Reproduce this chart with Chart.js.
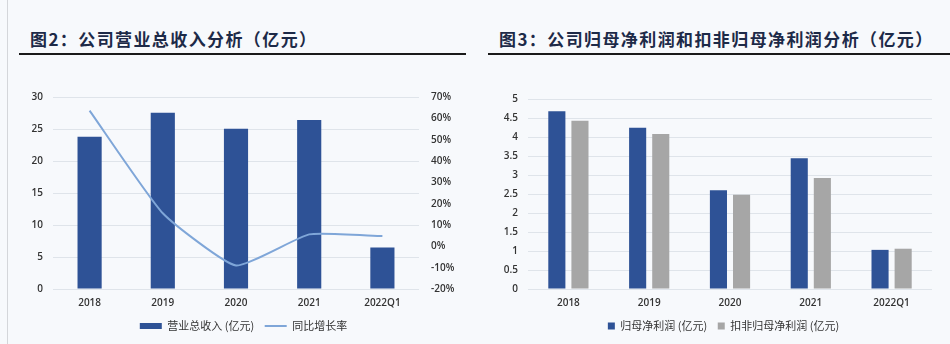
<!DOCTYPE html>
<html>
<head>
<meta charset="utf-8">
<script src="https://cdn.jsdelivr.net/npm/chart.js@4.4.1/dist/chart.umd.min.js"></script>
<style>
  html, body { margin: 0; padding: 0; width: 950px; height: 344px; overflow: hidden; background: #f7f9fc; }
  .border { position: absolute; left: 7px; top: 0; width: 1px; height: 344px; background: #d4d6da; }
  .title { position: absolute; top: 26px; font-family: "Noto Sans CJK SC", sans-serif; font-weight: 700; font-size: 17px; color: #1d2a48; letter-spacing: 1.4px; white-space: nowrap; }
  .rule { position: absolute; top: 53px; height: 2px; background: #1a1a1a; }
  .wrap { position: absolute; top: 60px; width: 475px; height: 284px; }
</style>
</head>
<body>
<div class="border"></div>
<div class="title" style="left:30px;">图2：公司营业总收入分析（亿元）</div>
<div class="rule" style="left:19px; width:447px;"></div>
<div class="title" style="left:499px;">图3：公司归母净利润和扣非归母净利润分析（亿元）</div>
<div class="rule" style="left:488px; width:462px;"></div>
<div class="wrap" style="left:0;"><canvas id="c1"></canvas></div>
<div class="wrap" style="left:475px;"><canvas id="c2"></canvas></div>
<script>
const categories = ["2018", "2019", "2020", "2021", "2022Q1"];
const revenue = [23.8, 27.55, 25.05, 26.4, 6.5];
const revenueGrowth = [63.6, 15.5, -9.0, 5.6, 4.8];
const netProfit = [4.68, 4.245, 2.6, 3.44, 1.03];
const deductedNetProfit = [4.43, 4.08, 2.48, 2.92, 1.06];

const revenueLabel = "营业总收入 (亿元)";
const growthLabel = "同比增长率";
const netProfitLabel = "归母净利润 (亿元)";
const deductedLabel = "扣非归母净利润 (亿元)";

const tickFont = { family: "'Open Sans', 'Noto Sans', sans-serif", size: 10, weight: '600' };
const legendFont = { family: "'Noto Sans CJK SC', sans-serif", size: 11 };
const gridColor = '#dfe4ea';
const blue = '#2e5296';
const gray = '#a6a6a6';
const lineBlue = '#7fa6d8';

Chart.defaults.color = '#333';
Chart.defaults.animation = false;

function legendShift(dx) {
  return {
    id: 'legendShift',
    afterLayout(chart) {
      if (chart.legend) { chart.legend.left += dx; chart.legend.right += dx; }
    }
  };
}

new Chart(document.getElementById('c1'), {
  type: 'bar',
  data: {
    labels: categories,
    datasets: [
      { type: 'bar', label: revenueLabel, data: revenue, backgroundColor: blue, borderWidth: 0,
        barPercentage: 0.33, categoryPercentage: 1, yAxisID: 'y', order: 1, pointStyle: 'rect' },
      { type: 'line', label: growthLabel, data: revenueGrowth, borderColor: lineBlue, backgroundColor: lineBlue,
        borderWidth: 2, pointRadius: 0, tension: 0.15, yAxisID: 'y1', order: 0, pointStyle: 'line' }
    ]
  },
  options: {
    responsive: true, maintainAspectRatio: false,
    layout: { padding: { top: 37, left: 0, right: 0, bottom: 2.5 } },
    plugins: {
      tooltip: { enabled: false },
      legend: {
        position: 'bottom',
        labels: { font: legendFont, color: '#333', usePointStyle: true, pointStyleWidth: 22, boxHeight: 6, padding: 10.5,
          sort: (a, b) => a.datasetIndex - b.datasetIndex }
      }
    },
    scales: {
      x: {
        grid: { display: false, drawTicks: false }, border: { display: false },
        ticks: { font: tickFont, color: '#333', padding: 8 },
        afterFit: s => { s.height = 21; }
      },
      y: {
        position: 'left', min: 0, max: 30,
        ticks: { stepSize: 5, font: tickFont, color: '#333', padding: 10 },
        grid: { color: gridColor, drawTicks: false }, border: { display: false },
        afterFit: s => { s.width = 53; }
      },
      y1: {
        position: 'right', min: -20, max: 70,
        ticks: { stepSize: 10, font: tickFont, color: '#333', padding: 4, callback: v => v + '%' },
        grid: { display: false }, border: { display: false },
        afterFit: s => { s.width = 56; }
      }
    }
  },
  plugins: [legendShift(6)]
});

new Chart(document.getElementById('c2'), {
  type: 'bar',
  data: {
    labels: categories,
    datasets: [
      { label: netProfitLabel, data: netProfit, backgroundColor: blue, borderWidth: 0, barPercentage: 0.74, categoryPercentage: 0.572 },
      { label: deductedLabel, data: deductedNetProfit, backgroundColor: gray, borderWidth: 0, barPercentage: 0.74, categoryPercentage: 0.572 }
    ]
  },
  options: {
    responsive: true, maintainAspectRatio: false,
    layout: { padding: { top: 39, left: 0, right: 18, bottom: 2.5 } },
    plugins: {
      tooltip: { enabled: false },
      legend: {
        position: 'bottom',
        labels: { font: legendFont, color: '#333', boxWidth: 7, boxHeight: 7, padding: 10.5 }
      }
    },
    scales: {
      x: {
        grid: { display: false, drawTicks: false }, border: { display: false },
        ticks: { font: tickFont, color: '#333', padding: 8 },
        afterFit: s => { s.height = 21; }
      },
      y: {
        min: 0, max: 5,
        ticks: { stepSize: 0.5, font: tickFont, color: '#333', padding: 10, callback: v => String(v) },
        grid: { color: gridColor, drawTicks: false }, border: { display: false },
        afterFit: s => { s.width = 53; }
      }
    }
  },
  plugins: [legendShift(20)]
});
</script>
</body>
</html>
